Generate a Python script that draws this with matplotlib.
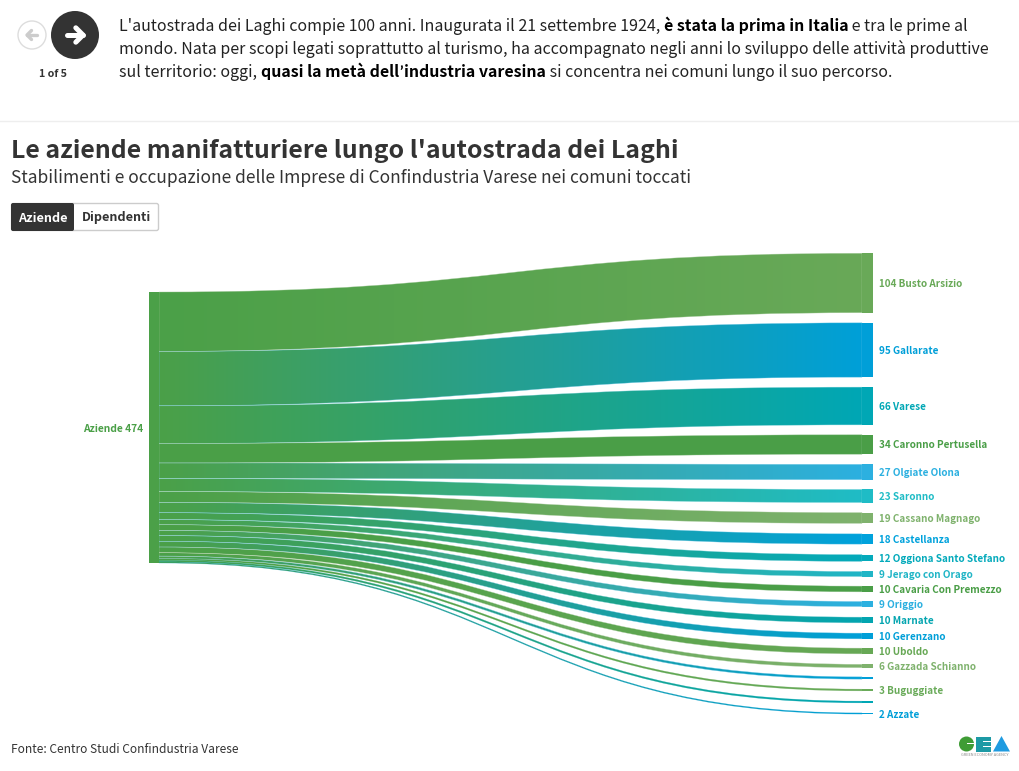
import matplotlib
matplotlib.use('Agg')
import matplotlib.pyplot as plt
from matplotlib.patches import Circle, PathPatch, Polygon, Rectangle, FancyBboxPatch
from matplotlib.path import Path
from matplotlib.colors import to_rgb
import numpy as np

# the latin glyphs of Noto Sans CJK are close to the Source Sans of the original
plt.rcParams['font.family'] = ['Noto Sans CJK SC', 'DejaVu Sans']

# Sankey data
source_name = 'Aziende'
source_total = 474
towns = ['Busto Arsizio', 'Gallarate', 'Varese', 'Caronno Pertusella', 'Olgiate Olona',
         'Saronno', 'Cassano Magnago', 'Castellanza', 'Oggiona Santo Stefano',
         'Jerago con Orago', 'Cavaria Con Premezzo', 'Origgio', 'Marnate', 'Gerenzano',
         'Uboldo', 'Gazzada Schianno', '', 'Buguggiate', '', 'Azzate']
values = [104, 95, 66, 34, 27, 23, 19, 18, 12, 9, 10, 9, 10, 10, 10, 6, 4, 3, 3, 2]
town_colors = ['#69a958', '#009fd8', '#00a7b5', '#4a9e47', '#2cb0e0', '#1fbcc6', '#7fb26d',
               '#00a2dc', '#04aabb', '#20b5c6', '#4a9e47', '#2cb0e0', '#03a5b0', '#009fd8',
               '#67a855', '#7fb26d', '#009fd8', '#6aab5a', '#00a7b5', '#009fd8']
source_color = '#4ba048'

# layout of the right hand column, pixel centre of each node
node_centres = [283, 350, 406, 444.5, 472, 496, 518, 539, 558, 574, 589, 604, 620, 636, 651,
                666, 678, 690, 702, 713.5]
unit = 271 / source_total
src_top = 292
left_x0, left_x1 = 149, 159
right_x0, right_x1 = 862, 873

fig = plt.figure(figsize=(10.2, 7.71), dpi=100)
ax = fig.add_axes([0, 0, 1, 1])
ax.set_xlim(0, 1020)
ax.set_ylim(771, 0)
ax.axis('off')
renderer = fig.canvas.get_renderer()


def run_width(s, **kw):
    # trailing spaces get dropped when measuring, so pad with a dot
    a = ax.text(0, 0, s + '.', **kw)
    b = ax.text(0, 0, '.', **kw)
    w = a.get_window_extent(renderer).width - b.get_window_extent(renderer).width
    a.remove()
    b.remove()
    return w


def rich_line(x, y, runs, size, color='#222222'):
    for s, bold in runs:
        kw = dict(fontsize=size, fontweight='bold' if bold else 'normal')
        if s == '’':
            # full width in the CJK font
            kw['family'] = ['Lato']
            x += 0.5
        ax.text(x, y, s, color='black' if bold else color, va='baseline', ha='left', **kw)
        x += run_width(s, **kw)
        if s == '’':
            x += 1.5


def ribbon(y0a, y0b, y1a, y1b):
    xm = (left_x1 + right_x0) / 2
    verts = [(left_x1, y0a), (xm, y0a), (xm, y1a), (right_x0, y1a),
             (right_x0, y1b), (xm, y1b), (xm, y0b), (left_x1, y0b), (left_x1, y0a)]
    codes = [Path.MOVETO, Path.CURVE4, Path.CURVE4, Path.CURVE4,
             Path.LINETO, Path.CURVE4, Path.CURVE4, Path.CURVE4, Path.CLOSEPOLY]
    return Path(verts, codes)


# links
y_src = src_top
for name, val, col, centre in zip(towns, values, town_colors, node_centres):
    h = val * unit
    path = ribbon(y_src, y_src + h, centre - h / 2, centre + h / 2)
    t = np.linspace(0, 1, 256)[None, :, None]
    grad = (1 - t) * np.array(to_rgb(source_color)) + t * np.array(to_rgb(col))
    patch = PathPatch(path, facecolor='none', edgecolor='none', transform=ax.transData)
    ax.add_patch(patch)
    im = ax.imshow(grad, extent=[left_x1, right_x0, 771, 0], aspect='auto', zorder=2,
                   interpolation='bilinear')
    im.set_clip_path(patch)
    ax.add_patch(PathPatch(path, facecolor='none', edgecolor=col, lw=0.3, alpha=0.5, zorder=2.5))
    if val > 3:
        ax.add_patch(PathPatch(path, facecolor='none', edgecolor='white', lw=0.4, alpha=0.3, zorder=3))
    ax.add_patch(Rectangle((right_x0, centre - h / 2), right_x1 - right_x0, h, color=col, lw=0, zorder=4))
    if name:
        ax.text(879, centre + 1, f'{val} {name}', color=col, fontsize=7.15, fontweight='bold',
                va='center', ha='left', zorder=5)
    y_src += h

ax.set_xlim(0, 1020)
ax.set_ylim(771, 0)

ax.add_patch(Rectangle((left_x0, src_top), left_x1 - left_x0, source_total * unit,
                       color=source_color, lw=0, zorder=4))
ax.text(143, 428.7, f'{source_name} {source_total}', color=source_color, fontsize=7.4,
        fontweight='bold', va='center', ha='right')

# header navigation
ax.add_patch(Circle((32, 35), 14, facecolor='white', edgecolor='#dddddd', lw=1))
ax.add_patch(Circle((75, 35), 24, facecolor='#333333', edgecolor='none'))
for cx, d, c, lw, sz in [(32, -1, '#cccccc', 2.4, 5), (75, 1, 'white', 3.6, 8)]:
    ax.plot([cx - d * sz, cx + d * sz], [35, 35], color=c, lw=lw, solid_capstyle='round')
    ax.plot([cx + d * (sz * 0.1), cx + d * sz, cx + d * (sz * 0.1)], [35 - sz * 0.9, 35, 35 + sz * 0.9],
            color=c, lw=lw, solid_capstyle='round', solid_joinstyle='round')
ax.text(53, 74, '1 of 5', fontsize=7.7, fontweight='bold', color='#333333', ha='center', va='center')

# intro text
rich_line(119, 31, [("L'autostrada dei Laghi compie 100 anni. Inaugurata il 21 settembre 1924, ", False),
                    ('è stata la prima in Italia', True), (' e tra le prime al', False)], 11.47)
rich_line(119, 54, [('mondo. Nata per scopi legati soprattutto al turismo, ha accompagnato negli anni lo sviluppo delle attività produttive', False)], 11.47)
rich_line(119, 77, [('sul territorio: oggi, ', False), ('quasi la metà dell', True), ('’', True), ('industria varesina', True),
                    (' si concentra nei comuni lungo il suo percorso.', False)], 11.47)
ax.plot([0, 1020], [120.5, 120.5], color='#eeeeee', lw=1)

# titles
ax.text(11, 158, "Le aziende manifatturiere lungo l'autostrada dei Laghi", fontsize=17.9,
        fontweight='bold', color='#333333', va='baseline')
ax.text(11, 183, 'Stabilimenti e occupazione delle Imprese di Confindustria Varese nei comuni toccati',
        fontsize=12.5, color='#333333', va='baseline')

# toggle buttons
ax.add_patch(FancyBboxPatch((11.5, 203.5), 147, 27, boxstyle='round,pad=0,rounding_size=2',
                            facecolor='white', edgecolor='#cccccc', lw=1))
ax.add_patch(FancyBboxPatch((11, 203), 63, 28, boxstyle='round,pad=0,rounding_size=2',
                            facecolor='#333333', edgecolor='none'))
ax.text(43, 218, 'Aziende', color='white', fontsize=9.1, fontweight='bold', ha='center', va='center')
ax.text(116.5, 218, 'Dipendenti', color='#333333', fontsize=9.1, fontweight='bold', ha='center', va='center')

# footer
ax.text(11, 753, 'Fonte: Centro Studi Confindustria Varese', fontsize=8.6, color='#333333', va='baseline')

# GEA logo
ax.add_patch(Circle((966.5, 744), 7.5, color='#3f9c35', lw=0))
ax.add_patch(Rectangle((967, 743), 8, 1.2, color='white', lw=0))
ax.add_patch(Rectangle((976, 736.5), 15, 15, color='#1d9aa5', lw=0))
for yy in (741, 746):
    ax.add_patch(Rectangle((983, yy), 8, 1, color='white', lw=0))
ax.add_patch(Polygon([[993, 751.5], [1001.5, 736], [1010, 751.5]], color='#1f9be0', lw=0))
ax.text(984.5, 755.5, 'GREEN ECONOMY AGENCY', fontsize=2.8, color='#888888', ha='center', va='center')

fig.savefig('out.png', dpi=100)
